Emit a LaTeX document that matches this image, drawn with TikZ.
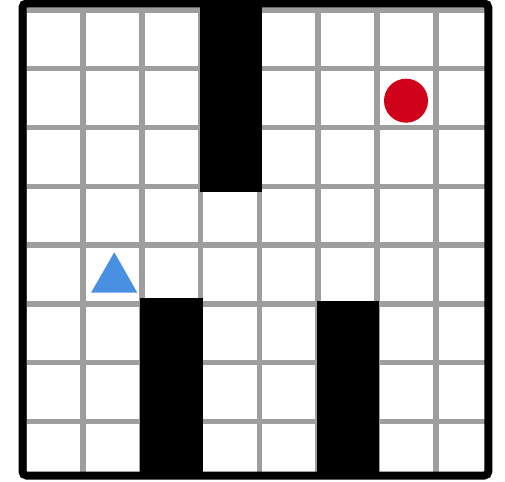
\documentclass[tikz,border=0pt]{standalone}
\definecolor{gridgray}{RGB}{158,158,158}
\definecolor{triblue}{RGB}{74,144,226}
\definecolor{dotred}{RGB}{208,2,27}
\tikzset{
  gridline/.style={draw=gridgray, line width=5.5pt},
  wall/.style={fill=black},
  frame/.style={draw=black, line width=8pt, rounded corners=4pt},
}
\begin{document}
\begin{tikzpicture}[x=1pt,y=-1pt]
\useasboundingbox (0,0) rectangle (505,481);
\fill[white] (0,0) rectangle (505,481);
\begin{scope}
\clip (22.5,3.5) rectangle (488.3,475.5);
\foreach \i in {0,...,8} {
  \draw[gridline] ({24.2+58.8*\i},0) -- ({24.2+58.8*\i},481);
  \draw[gridline] (0,{10+58.75*\i}) -- (505,{10+58.75*\i});
}
\fill[wall] (199.5,0) rectangle (262,191.5);
\fill[wall] (140,297.7) rectangle (203,481);
\fill[wall] (316.7,300.7) rectangle (379,481);
\end{scope}
\fill[triblue] (114.3,252.3) -- (137.3,292.7) -- (91,292.7) -- cycle;
\fill[dotred] (406,100.7) circle (22);
\draw[frame] (22.5,3.5) rectangle (488.3,475.5);
\end{tikzpicture}
\end{document}
